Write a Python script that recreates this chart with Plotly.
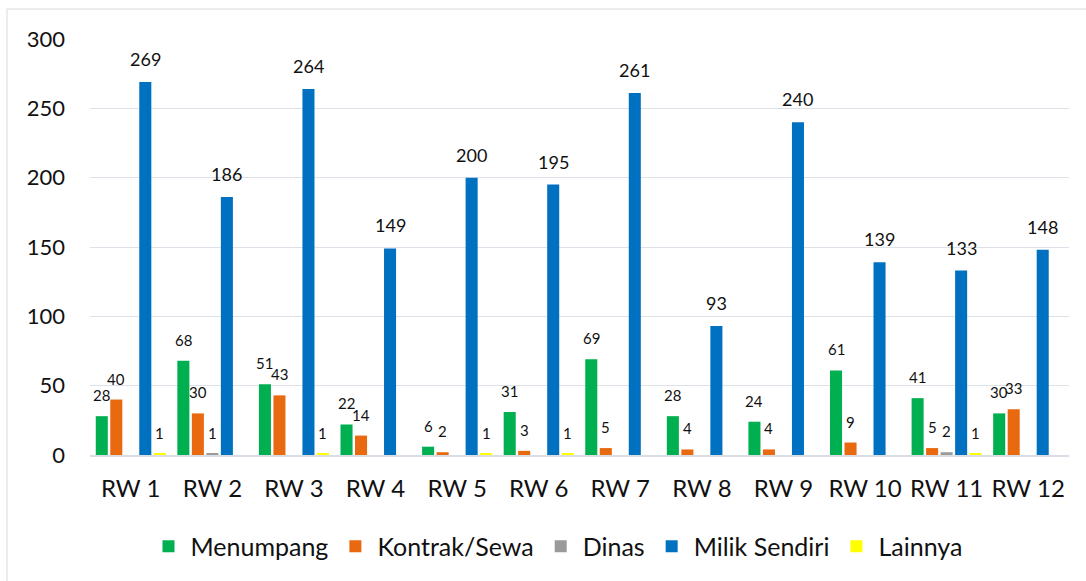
import plotly.graph_objects as go

# ---- data ----
categories = ["RW 1", "RW 2", "RW 3", "RW 4", "RW 5", "RW 6",
              "RW 7", "RW 8", "RW 9", "RW 10", "RW 11", "RW 12"]
menumpang = [28, 68, 51, 22, 6, 31, 69, 28, 24, 61, 41, 30]
kontrak_sewa = [40, 30, 43, 14, 2, 3, 5, 4, 4, 9, 5, 33]
dinas = [0, 1, 0, 0, 0, 0, 0, 0, 0, 0, 2, 0]
milik_sendiri = [269, 186, 264, 149, 200, 195, 261, 93, 240, 139, 133, 148]
lainnya = [1, 0, 1, 0, 1, 1, 0, 0, 0, 0, 1, 0]
series_names = ["Menumpang", "Kontrak/Sewa", "Dinas", "Milik Sendiri", "Lainnya"]
y_ticks = [0, 50, 100, 150, 200, 250, 300]

series_values = [menumpang, kontrak_sewa, dinas, milik_sendiri, lainnya]

# ---- style ----
colors = ["#00B050", "#E8690F", "#9A9A9A", "#0070C0", "#FFFF00"]
label_sizes = [15, 15, 15, 18, 15]
FONT = "Lato, 'Open Sans', sans-serif"
W, H = 1086, 581
ML, MR, MT, MB = 90, 17, 39, 125.5
BARGAP, BARGROUPGAP = 0.111, 0.17

fig = go.Figure()
for name, vals, col in zip(series_names, series_values, colors):
    fig.add_trace(go.Bar(
        x=categories, y=vals, name=name,
        marker=dict(color=col, line=dict(width=0)),
        hoverinfo="x+y+name",
    ))

# data labels (only for non-zero values), placed above each bar
plot_w = W - ML - MR
plot_h = H - MT - MB
cat_w = plot_w / len(categories)
pitch = cat_w * (1 - BARGAP) / len(series_names)
annotations = []
for k, (vals, fs) in enumerate(zip(series_values, label_sizes)):
    xs = (k - (len(series_names) - 1) / 2) * pitch
    for c, v in zip(categories, vals):
        if v == 0:
            continue
        annotations.append(dict(
            x=c, y=v, xref="x", yref="y", text=str(v), showarrow=False,
            xshift=xs, yshift=10, yanchor="bottom", xanchor="center",
            font=dict(family=FONT, size=fs, color="#111111"),
        ))

fig.update_layout(
    width=W, height=H,
    margin=dict(l=ML, r=MR, t=MT, b=MB, pad=0),
    paper_bgcolor="white", plot_bgcolor="white",
    barmode="group", bargap=BARGAP, bargroupgap=BARGROUPGAP,
    font=dict(family=FONT, color="#111111"),
    showlegend=True,
    legend=dict(orientation="h", x=(557 - ML) / plot_w, xanchor="center",
                y=(H - MB - 547) / plot_h, yanchor="middle",
                font=dict(family=FONT, size=25, color="#111111"),
                itemwidth=34, traceorder="normal", itemclick=False),
    annotations=annotations,
    shapes=[dict(type="rect", xref="paper", yref="paper",
                 x0=(7 - ML) / plot_w, x1=(1095 - ML) / plot_w,
                 y0=(H - MB - 595) / plot_h, y1=(H - MB - 9) / plot_h,
                 line=dict(color="#D9D9D9", width=1), fillcolor="rgba(0,0,0,0)",
                 layer="below")],
)
fig.update_xaxes(
    type="category", showgrid=False, showline=True, linecolor="#D9DEE5", linewidth=2,
    ticks="", tickfont=dict(family=FONT, size=24, color="#111111"),
    ticklabelstandoff=11,
)
fig.update_yaxes(
    range=[0, 300], tickvals=y_ticks, showgrid=True, gridcolor="#DDE2E8", gridwidth=1,
    zeroline=False, showline=False, ticks="",
    tickfont=dict(family=FONT, size=22, color="#111111"),
    ticklabelstandoff=24,
)

fig.write_html("out.html", config={"displayModeBar": False},
               post_script="document.body.style.margin='0';document.body.style.overflow='hidden';")
